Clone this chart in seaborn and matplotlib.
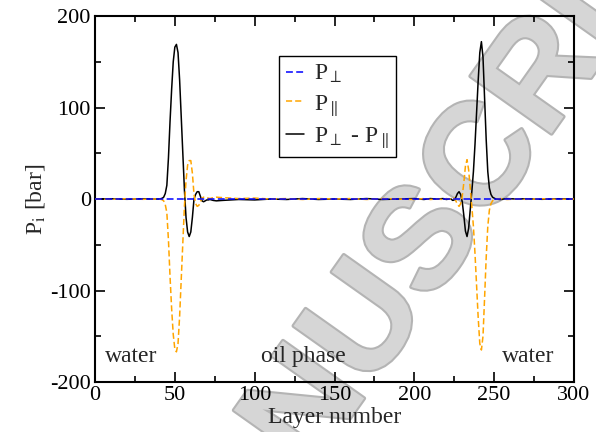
import numpy as np
import pandas as pd
import seaborn as sns
import matplotlib.pyplot as plt
import matplotlib.patheffects as pe
from matplotlib.ticker import MultipleLocator

# layer grid (dense around the two interfaces)
layers = ([0, 10, 20, 30, 36]
          + list(range(40, 73))
          + [74, 76, 80, 85, 90, 100, 110, 120, 130, 140, 150, 160, 170, 180, 190,
             200, 206, 210, 214, 218, 220, 222]
          + list(range(223, 252))
          + [254, 258, 264, 270, 280, 290, 300])

# P_perp - P_par
p_diff = ([0, 0.3, -0.3, 0.3, 0]
          + [0, 0.3, 0.8, 2, 6, 15, 45, 85, 120, 150, 166, 169, 160, 130, 90,
             50, 10, -20, -36, -41, -36, -20, 0, 5, 8, 8, 3, -2, -3, -2, -1, -1, -0.5]
          + [-1.5, -2, -1.5, -1, -0.5, -1, 0, -0.5, 0.5, -0.5, 0, -0.5, 0.5, -0.5, 0,
             0.5, -0.5, 0.5, 0, 0.5, -0.5, 0]
          + [0, -1.5, -1, 2, 6, 8, 5, -3, -18, -35, -41, -32, -12, 8, 30, 60, 95,
             130, 160, 172, 155, 110, 65, 30, 12, 5, 2, 1, 0]
          + [-0.5, 0.5, 0, 0.3, -0.3, 0.3, 0])

# P_par
p_par = ([0, -0.3, 0.3, -0.3, 0]
         + [0, -0.3, -0.8, -2, -6, -15, -45, -85, -120, -148, -164, -167, -158, -128, -88,
            -48, -8, 20, 37, 42, 42, 28, 5, -5, -8, -7, -3, 1, 2, 2, 1, 1, 0.5]
         + [1.5, 2, 1.5, 1, 0.5, 1, 0, 0.5, -0.5, 0.5, 0, 0.5, -0.5, 0.5, 0,
            -0.5, 0.5, -0.5, 0, -0.5, 0.5, 0]
         + [0, 1.5, 1, -2, -6, -8, -5, 3, 18, 36, 43, 32, 12, -8, -30, -60, -95,
            -130, -158, -165, -150, -108, -64, -30, -12, -5, -2, -1, 0]
         + [0.5, -0.5, 0, -0.3, 0.3, -0.3, 0])

# P_perp (flat at zero)
perp_layers = [0, 50, 100, 150, 200, 250, 300]
p_perp = [0, 0, 0, 0, 0, 0, 0]

region_labels = ['water', 'oil phase', 'water']
region_x = [6, 104, 255]

sns.set_style('ticks')
plt.rcParams['font.family'] = ['Liberation Serif', 'DejaVu Serif']
plt.rcParams['mathtext.fontset'] = 'stix'
plt.rcParams['axes.unicode_minus'] = False

df = pd.DataFrame({'layer': layers, 'diff': p_diff, 'par': p_par})
df_perp = pd.DataFrame({'layer': perp_layers, 'perp': p_perp})

fig = plt.figure(figsize=(5.96, 4.32), dpi=100)
ax = fig.add_axes([0.1594, 0.1157, 0.8037, 0.8472])

# watermark behind the data
ax.text(0.250, -0.475, 'MANUSCRIPT', transform=fig.transFigure, rotation=54.7,
        rotation_mode='anchor', ha='left', va='center', fontsize=104,
        family='Liberation Sans', weight='bold', color='#d6d6d6', zorder=0.5,
        clip_on=False,
        path_effects=[pe.withStroke(linewidth=3, foreground='#b4b4b4')])

sns.lineplot(data=df, x='layer', y='diff', color='black', lw=1.1, ax=ax,
             estimator=None, sort=False, zorder=2)
sns.lineplot(data=df, x='layer', y='par', color='orange', lw=1.1, ax=ax,
             estimator=None, sort=False, linestyle=(0, (4, 2)), zorder=3)
sns.lineplot(data=df_perp, x='layer', y='perp', color='blue', lw=1.1, ax=ax,
             estimator=None, sort=False, linestyle=(0, (4.5, 2.2)), zorder=4)

l_diff, l_par, l_perp = ax.get_lines()[:3]
leg = ax.legend([l_perp, l_par, l_diff],
                [r'P$_\perp$', r'P$_\parallel$', r'P$_\perp$ - P$_\parallel$'],
                loc='upper left', bbox_to_anchor=(0.384, 0.891), fontsize=17,
                frameon=True, fancybox=False, edgecolor='black', framealpha=1,
                handlelength=0.75, handletextpad=0.45, labelspacing=0.32,
                borderpad=0.3, borderaxespad=0)
leg.get_frame().set_linewidth(1.0)

for lab, x in zip(region_labels, region_x):
    ax.text(x, -178, lab, fontsize=17, ha='left', va='baseline', zorder=5)

ax.set_xlim(0, 300)
ax.set_ylim(-200, 200)
ax.xaxis.set_major_locator(MultipleLocator(50))
ax.xaxis.set_minor_locator(MultipleLocator(25))
ax.yaxis.set_major_locator(MultipleLocator(100))
ax.yaxis.set_minor_locator(MultipleLocator(50))
ax.tick_params(which='both', direction='in', top=True, right=True, width=1.2,
               labelsize=16, pad=3, colors='black')
ax.tick_params(which='major', length=7)
ax.tick_params(which='minor', length=4)
for s in ax.spines.values():
    s.set_linewidth(1.5)
    s.set_color('black')

ax.set_xlabel('Layer number', fontsize=17, labelpad=1)
ax.set_ylabel(r'P$_\mathrm{i}$ [bar]', fontsize=17, labelpad=2)

fig.savefig('out.png', dpi=100)
